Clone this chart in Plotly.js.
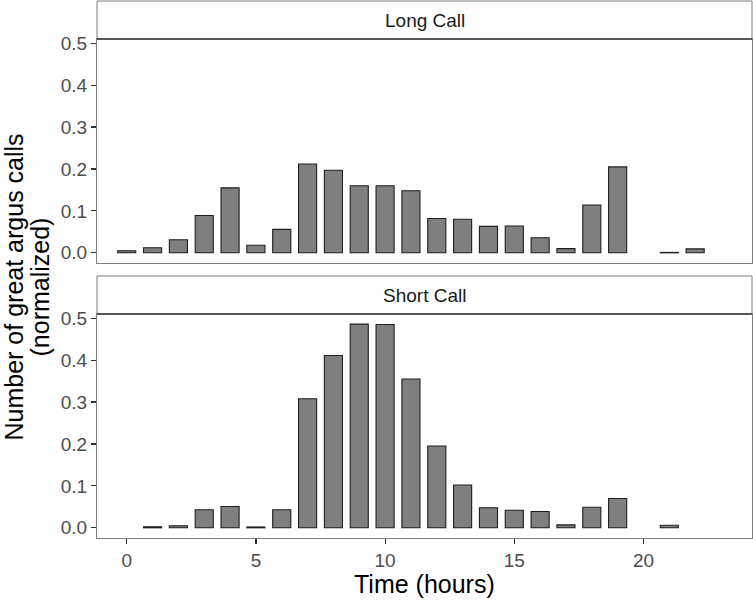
<!DOCTYPE html>
<html>
<head>
<meta charset="utf-8">
<script src="https://cdn.plot.ly/plotly-3.0.1.min.js"></script>
<style>
  html, body { margin: 0; padding: 0; background: #fff; }
  #chart { width: 753px; height: 600px; }
</style>
</head>
<body>
<div id="chart"></div>
<script>
// data (null = no bar)
const hours = [0, 1, 2, 3, 4, 5, 6, 7, 8, 9, 10, 11, 12, 13, 14, 15, 16, 17, 18, 19, 20, 21, 22]
const longCall = [0.005, 0.012, 0.031, 0.089, 0.155, 0.018, 0.056, 0.212, 0.197, 0.160, 0.160, 0.148,
  0.082, 0.080, 0.063, 0.064, 0.036, 0.010, 0.114, 0.205, null, 0.001, 0.0095]
const shortCall = [null, 0.0025, 0.005, 0.043, 0.051, 0.002, 0.043, 0.308, 0.411, 0.486, 0.485, 0.355,
  0.195, 0.102, 0.048, 0.042, 0.039, 0.007, 0.049, 0.070, null, 0.006, null]
const panelNames = ['Long Call', 'Short Call']
const xTicks = [0, 5, 10, 15, 20]
const yTicks = [0, 0.1, 0.2, 0.3, 0.4, 0.5]
const yTitleLines = ['Number of great argus calls', '(normalized)']

//style vars
const font = "'Liberation Sans', Arial, sans-serif"
const tickColor = '#4d4d4d'
const borderColor = '#7f7f7f'
const barFill = '#7f7f7f'
const barLine = '#1f1f1f'

// pixel layout -> paper fractions (plot area y from 1 to 538)
const topDomain = [0.5121, 0.9292]
const topStrip = [0.9292, 1.0]
const botStrip = [0.4171, 0.4879]
const botDomain = [0, 0.4171]

function barTrace(values, xa, ya) {
  return {
    type: 'bar',
    x: hours,
    y: values,
    width: 0.7,
    xaxis: xa,
    yaxis: ya,
    marker: { color: barFill, line: { color: barLine, width: 1.1 } },
    hoverinfo: 'x+y',
    showlegend: false,
  }
}

let baseX = {
  range: [-1.15, 24.2],
  showgrid: false,
  zeroline: false,
  showline: true,
  mirror: true,
  linecolor: borderColor,
  linewidth: 1,
}
let baseY = {
  range: [-0.0243, 0.51],
  tickvals: yTicks,
  ticktext: yTicks.map(v => v.toFixed(1)),
  ticks: 'outside',
  ticklen: 5,
  tickwidth: 1.2,
  tickcolor: '#333333',
  tickfont: { family: font, size: 19, color: tickColor },
  showgrid: false,
  zeroline: false,
  showline: true,
  mirror: true,
  linecolor: borderColor,
  linewidth: 1,
}

let layout = {
  width: 753,
  height: 600,
  margin: { l: 97, r: 1, t: 1, b: 62 },
  paper_bgcolor: '#fff',
  plot_bgcolor: '#fff',
  bargap: 0,
  font: { family: font },
  xaxis: {
    ...baseX,
    anchor: 'y',
    tickvals: xTicks,
    ticks: 'outside',
    ticklen: 5,
    tickwidth: 1.2,
    tickcolor: '#333333',
    tickfont: { family: font, size: 19, color: tickColor },
  },
  yaxis: { ...baseY, anchor: 'x', domain: botDomain },
  xaxis2: { ...baseX, anchor: 'y2', matches: 'x', showticklabels: false, ticks: '' },
  yaxis2: { ...baseY, anchor: 'x2', domain: topDomain },
  shapes: [topStrip, botStrip].flatMap(s => [
    {
      type: 'rect', xref: 'paper', yref: 'paper',
      x0: 0, x1: 1, y0: s[0], y1: s[1],
      fillcolor: '#fff', line: { color: borderColor, width: 1 },
    },
    {
      type: 'line', xref: 'paper', yref: 'paper',
      x0: 0, x1: 1, y0: s[0], y1: s[0],
      line: { color: '#555555', width: 2 },
    },
  ]),
  annotations: [
    ...[topStrip, botStrip].map((s, i) => ({
      xref: 'paper', yref: 'paper',
      x: 0.5, y: (s[0] + s[1]) / 2,
      xanchor: 'center', yanchor: 'middle',
      text: panelNames[i],
      showarrow: false,
      font: { family: font, size: 19, color: '#1a1a1a' },
    })),
    {
      xref: 'paper', yref: 'paper',
      x: 0.5, y: -0.086,
      xanchor: 'center', yanchor: 'middle',
      text: 'Time (hours)',
      showarrow: false,
      font: { family: font, size: 25, color: '#000' },
    },
    // y title, one annotation per line (ggplot spacing is tighter than plotly's)
    ...yTitleLines.map((t, i) => ({
      xref: 'paper', yref: 'paper',
      x: (14 + 26 * i - 97) / 655, y: 0.4665,
      xanchor: 'center', yanchor: 'middle',
      textangle: -90,
      text: t,
      showarrow: false,
      font: { family: font, size: 25, color: '#000' },
    })),
  ],
}

Plotly.newPlot('chart', [barTrace(shortCall, 'x', 'y'), barTrace(longCall, 'x2', 'y2')], layout, {
  displayModeBar: false,
  staticPlot: true,
})
</script>
</body>
</html>
